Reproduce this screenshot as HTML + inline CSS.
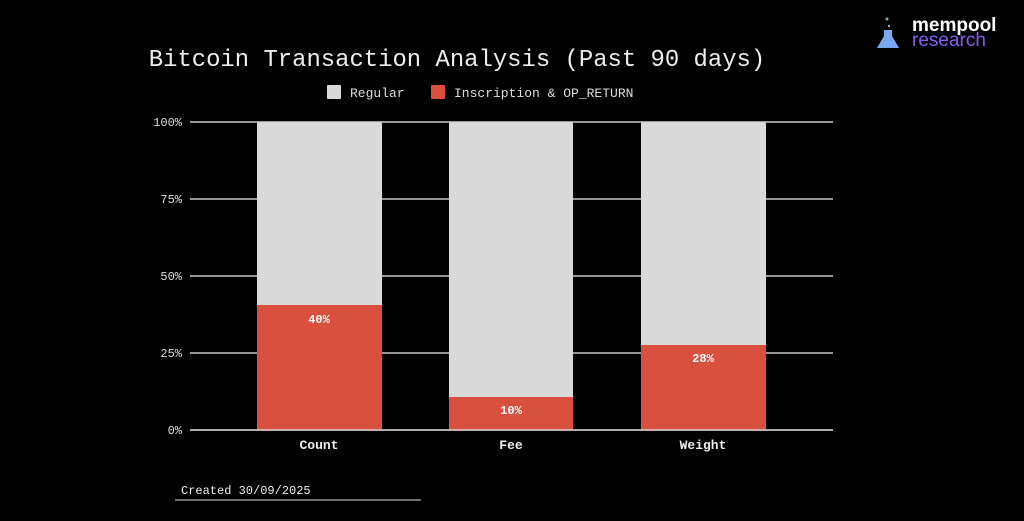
<!DOCTYPE html>
<html><head><style>
body{margin:0;background:#000;width:1024px;height:516px;overflow:hidden;font-family:"Liberation Mono",monospace;}
</style></head><body>
<svg width="1024" height="516" xmlns="http://www.w3.org/2000/svg" font-family="Liberation Mono, monospace">
<rect width="1024" height="516" fill="#000"/>
<text x="457" y="66" fill="#eee" font-size="23.9" text-anchor="middle">Bitcoin Transaction Analysis (Past 90 days)</text>
<rect x="327" y="85" width="14" height="14" fill="#d9d9d9" rx="1"/>
<text x="350" y="97" fill="#ddd" font-size="13">Regular</text>
<rect x="431" y="85" width="14" height="14" fill="#d9503f" rx="1"/>
<text x="454" y="97" fill="#ddd" font-size="13">Inscription &amp; OP_RETURN</text>
<g stroke="#eee" stroke-width="1.2">
<line x1="190" x2="833" y1="122" y2="122"/>
<line x1="190" x2="833" y1="199" y2="199"/>
<line x1="190" x2="833" y1="276" y2="276"/>
<line x1="190" x2="833" y1="353" y2="353"/>
<line x1="190" x2="833" y1="430" y2="430"/>
</g>
<g fill="#ddd" font-size="12" text-anchor="end">
<text x="182" y="126">100%</text><text x="182" y="203">75%</text><text x="182" y="280">50%</text><text x="182" y="357">25%</text><text x="182" y="434">0%</text>
</g>
<rect x="257" y="122" width="125" height="308" fill="#d9d9d9" rx="2"/>
<rect x="257" y="305" width="125" height="125" fill="#d9503f"/>
<rect x="449" y="122" width="124" height="308" fill="#d9d9d9" rx="2"/>
<rect x="449" y="397" width="124" height="33" fill="#d9503f"/>
<rect x="641" y="122" width="125" height="308" fill="#d9d9d9" rx="2"/>
<rect x="641" y="345" width="125" height="85" fill="#d9503f"/>
<line x1="190" x2="833" y1="430" y2="430" stroke="#eee" stroke-width="1.2"/>
<g fill="#fff" font-size="12" font-weight="bold" text-anchor="middle">
<text x="319" y="323">40%</text><text x="511" y="414">10%</text><text x="703" y="362">28%</text>
</g>
<g fill="#eee" font-size="13" font-weight="bold" text-anchor="middle">
<text x="319" y="449">Count</text><text x="511" y="449">Fee</text><text x="703" y="449">Weight</text>
</g>
<text x="181" y="494" fill="#eee" font-size="12">Created 30/09/2025</text>
<line x1="175" x2="421" y1="500" y2="500" stroke="#ddd" stroke-width="1"/>
<circle cx="887" cy="19" r="1.5" fill="#8ab"/><circle cx="889" cy="26" r="1.2" fill="#8ab"/>
<path d="M884 30 L892 30 L892 36 L899 48 L877 48 L884 36 Z" fill="#7aa8f0"/>
<text x="912" y="31" fill="#fff" font-family="Liberation Sans, sans-serif" font-size="19" font-weight="bold">mempool</text>
<text x="912" y="46" fill="#8a5cf5" font-family="Liberation Sans, sans-serif" font-size="19">research</text>
</svg>
</body></html>
